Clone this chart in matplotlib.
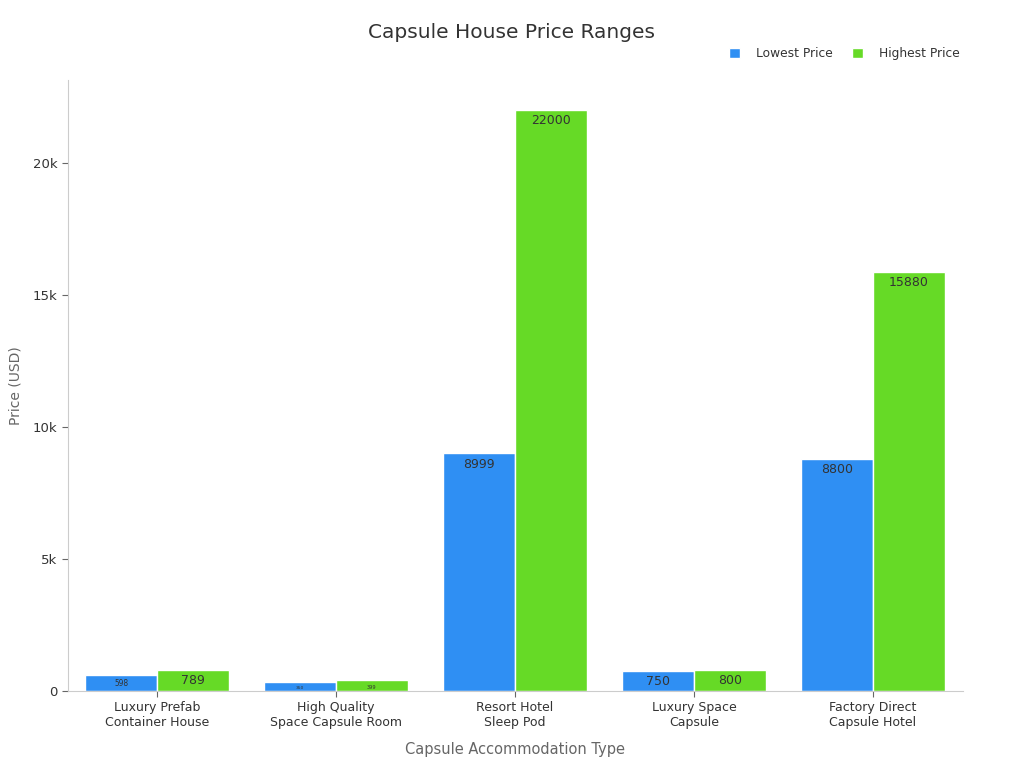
import numpy as np
import matplotlib.pyplot as plt
from matplotlib.ticker import FuncFormatter

categories = ['Luxury Prefab\nContainer House', 'High Quality\nSpace Capsule Room',
              'Resort Hotel\nSleep Pod', 'Luxury Space\nCapsule', 'Factory Direct\nCapsule Hotel']
lowest = [598, 350, 8999, 750, 8800]
highest = [789, 399, 22000, 800, 15880]

BLUE = '#2f8ff3'
GREEN = '#66da26'

fig = plt.figure(figsize=(10.24, 7.68), dpi=100)
ax = fig.add_axes([0.066, 0.1003, 0.874, 0.7957])

x = np.arange(len(categories))
w = 0.4
b1 = ax.bar(x - w / 2, lowest, w, color=BLUE, edgecolor='white', linewidth=1, label='Lowest Price')
b2 = ax.bar(x + w / 2, highest, w, color=GREEN, edgecolor='white', linewidth=1, label='Highest Price')


def label_size(v):
    # small bars get shrunk labels, like the reference
    return 9 if v >= 700 else max(2.5, v / 110)


for bars, vals in ((b1, lowest), (b2, highest)):
    for bar, v in zip(bars, vals):
        ax.annotate(str(v), (bar.get_x() + bar.get_width() / 2, v),
                    xytext=(0, -3), textcoords='offset points',
                    ha='center', va='top', fontsize=label_size(v), color='#333333')

ax.set_xlim(-0.5, 4.5)
ax.set_ylim(0, 23150)
ax.set_xticks(x)
ax.set_xticklabels(categories, fontsize=9, color='#333333')
ax.set_yticks([0, 5000, 10000, 15000, 20000])
ax.yaxis.set_major_formatter(FuncFormatter(lambda v, p: '0' if v == 0 else f'{int(v / 1000)}k'))
ax.tick_params(axis='y', labelsize=9.5, colors='#333333')
ax.tick_params(axis='both', color='#666666', length=4)

for s in ('top', 'right'):
    ax.spines[s].set_visible(False)
for s in ('left', 'bottom'):
    ax.spines[s].set_color('#cccccc')

ax.set_xlabel('Capsule Accommodation Type', fontsize=10.5, color='#666666', labelpad=9)
ax.set_ylabel('Price (USD)', fontsize=10, color='#666666', labelpad=7)

fig.suptitle('Capsule House Price Ranges', x=0.5, y=0.97, fontsize=14.5, color='#333333')
fig.legend(loc='upper right', bbox_to_anchor=(0.948, 0.953), ncol=2, frameon=False,
           fontsize=8.8, handlelength=0.9, handleheight=0.9, columnspacing=1.6, handletextpad=1.3,
           labelcolor='#333333')

fig.savefig('out.png', dpi=100, facecolor='white')
